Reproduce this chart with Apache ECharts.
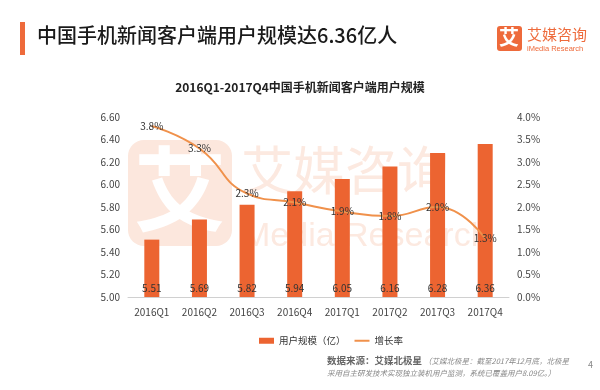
<!DOCTYPE html>
<html><head><meta charset="utf-8">
<script src="https://cdn.jsdelivr.net/npm/echarts@6/dist/echarts.min.js"></script>
<style>html,body{margin:0;padding:0;background:#fff}#c{width:600px;height:390px}</style>
</head><body><div id="c"></div>
<script>
const categories = ['2016Q1','2016Q2','2016Q3','2016Q4','2017Q1','2017Q2','2017Q3','2017Q4'];
const userScale = [5.51, 5.69, 5.82, 5.94, 6.05, 6.16, 6.28, 6.36];
const growthRate = [3.8, 3.3, 2.3, 2.1, 1.9, 1.8, 2.0, 1.3];
const leftTicks = {min: 5.0, max: 6.6, interval: 0.2};
const rightTicks = {min: 0, max: 4.0, interval: 0.5};

const font = '"Noto Sans CJK SC", "Noto Sans", sans-serif';
const chart = echarts.init(document.getElementById('c'), null, {renderer: 'canvas'});
chart.setOption({
  backgroundColor: '#fff',
  textStyle: {fontFamily: font},
  animation: false,
  graphic: [
    // watermark
    {type: 'rect', z: 0, shape: {x: 128, y: 140, width: 104, height: 106, r: 16}, style: {fill: '#FCE7DD'}},
    {type: 'text', z: 0, left: 134, top: 143, style: {text: '艾', font: 'bold 92px ' + font, fill: '#fff'}},
    {type: 'text', z: 0, left: 241, top: 144, style: {text: '艾媒咨询', font: '52px ' + font, fill: '#FCE9E0'}},
    {type: 'text', z: 0, left: 242, top: 220, style: {text: 'Media Research', font: '34px "Liberation Sans", Arial, sans-serif', fill: '#FCE9E0'}},
    // header
    {type: 'rect', shape: {x: 20, y: 22, width: 5, height: 33}, style: {fill: '#EE6A3B'}},
    {type: 'text', left: 37, top: 25, style: {text: '中国手机新闻客户端用户规模达6.36亿人', font: '500 20px ' + font, fill: '#1a1a1a'}},
    // logo
    {type: 'rect', shape: {x: 497, y: 26, width: 25, height: 25, r: 3}, style: {fill: '#EE6A3B'}},
    {type: 'text', left: 499, top: 27, style: {text: '艾', font: 'bold 20px ' + font, fill: '#fff'}},
    {type: 'text', left: 527, top: 27, style: {text: '艾媒咨询', font: '15px ' + font, fill: '#EE6A3B'}},
    {type: 'text', left: 527, top: 45, style: {text: 'iMedia Research', font: '7.5px "Liberation Sans", Arial, sans-serif', fill: '#EE6A3B'}},
    // subtitle
    {type: 'text', left: 'center', top: 81, style: {text: '2016Q1-2017Q4中国手机新闻客户端用户规模', font: 'bold 12px ' + font, fill: '#222'}},
    // footer
    {type: 'text', left: 327, top: 356, style: {text: '数据来源：艾媒北极星', font: 'bold 9.5px ' + font, fill: '#666'}},
    {type: 'text', left: 424, top: 357, style: {text: '（艾媒北极星：截至2017年12月底，北极星', font: 'italic 7.5px ' + font, fill: '#888'}},
    {type: 'text', left: 327, top: 369, style: {text: '采用自主研发技术实现独立装机用户监测，系统已覆盖用户8.09亿。）', font: 'italic 7.5px ' + font, fill: '#888'}},
    {type: 'text', left: 588, top: 360, style: {text: '4', font: '9px ' + font, fill: '#888'}}
  ],
  legend: {
    top: 331, left: 254,
    itemWidth: 15, itemHeight: 6, itemGap: 8,
    textStyle: {fontSize: 9.5, color: '#333'},
    data: [
      {name: '用户规模（亿）', icon: 'rect'},
      {name: '增长率', itemStyle: {opacity: 0}}
    ]
  },
  grid: {left: 128, right: 91, top: 117, bottom: 93},
  xAxis: {
    type: 'category', data: categories,
    axisLine: {lineStyle: {color: '#D0D0D0'}},
    axisTick: {show: false},
    axisLabel: {color: '#444', fontSize: 10, margin: 10}
  },
  yAxis: [
    {type: 'value', min: leftTicks.min, max: leftTicks.max, interval: leftTicks.interval,
     axisLine: {show: false}, axisTick: {show: false}, splitLine: {show: false},
     axisLabel: {color: '#444', fontSize: 10, margin: 8, formatter: v => v.toFixed(2)}},
    {type: 'value', min: rightTicks.min, max: rightTicks.max, interval: rightTicks.interval,
     axisLine: {show: false}, axisTick: {show: false}, splitLine: {show: false},
     axisLabel: {color: '#444', fontSize: 10, margin: 8, formatter: v => v.toFixed(1) + '%'}}
  ],
  series: [
    {name: '用户规模（亿）', type: 'bar', data: userScale, barWidth: 15, z: 3,
     itemStyle: {color: '#EC6431'},
     label: {show: true, position: 'insideBottom', distance: 4, color: '#333', fontSize: 10,
             formatter: p => p.value.toFixed(2)}},
    {name: '增长率', type: 'line', yAxisIndex: 1, data: growthRate, smooth: true, z: 4,
     showSymbol: true, symbol: 'circle', symbolSize: 1,
     lineStyle: {color: '#F0914B', width: 2}, itemStyle: {color: '#F0914B'},
     label: {show: true, position: 'inside', color: '#333', fontSize: 10,
             formatter: p => p.value.toFixed(1) + '%'}}
  ]
});
</script></body></html>
